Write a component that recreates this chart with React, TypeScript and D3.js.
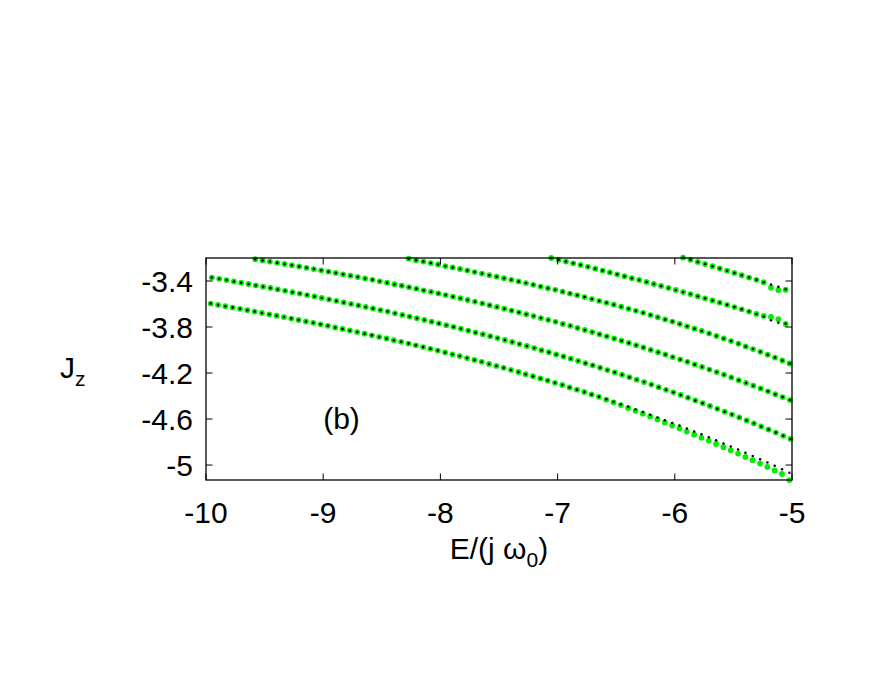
import React from 'react';
import * as d3 from 'd3';

// energies are on an even grid, one dot every E_STEP, each branch starts at its own E
const E_STEP = 0.0625;
const branchStarts = [-9.96, -9.95, -9.58, -8.27, -7.054, -5.929];

// black dots (exact)
const jzExact1 = [
  -3.596, -3.608, -3.619, -3.631, -3.642, -3.654, -3.666, -3.678, -3.690,
  -3.702, -3.714, -3.727, -3.739, -3.752, -3.764, -3.777, -3.790,
  -3.804, -3.817, -3.830, -3.844, -3.858, -3.872, -3.886, -3.900,
  -3.915, -3.929, -3.944, -3.959, -3.974, -3.990, -4.005, -4.021,
  -4.037, -4.053, -4.070, -4.086, -4.103, -4.121, -4.138, -4.155,
  -4.173, -4.191, -4.210, -4.228, -4.247, -4.266, -4.285, -4.304,
  -4.325, -4.345, -4.365, -4.386, -4.407, -4.428, -4.450, -4.471,
  -4.494, -4.517, -4.539, -4.562, -4.586, -4.610, -4.634, -4.657,
  -4.683, -4.708, -4.733, -4.758, -4.785, -4.812, -4.838, -4.865,
  -4.893, -4.921, -4.949, -4.977, -5.007, -5.036, -5.066,
];
const jzExact2 = [
  -3.370, -3.381, -3.392, -3.404, -3.415, -3.426, -3.438, -3.450, -3.461,
  -3.473, -3.485, -3.497, -3.509, -3.522, -3.534, -3.547, -3.560,
  -3.573, -3.586, -3.599, -3.612, -3.625, -3.639, -3.653, -3.666,
  -3.681, -3.695, -3.709, -3.724, -3.739, -3.754, -3.769, -3.784,
  -3.799, -3.815, -3.831, -3.847, -3.863, -3.880, -3.896, -3.913,
  -3.930, -3.948, -3.965, -3.983, -4.001, -4.019, -4.038, -4.056,
  -4.075, -4.095, -4.114, -4.133, -4.154, -4.174, -4.194, -4.215,
  -4.236, -4.258, -4.279, -4.300, -4.323, -4.346, -4.368, -4.391,
  -4.414, -4.438, -4.462, -4.486, -4.511, -4.536, -4.561, -4.586,
  -4.612, -4.638, -4.665, -4.691, -4.718, -4.746, -4.773,
];
const jzExact3 = [
  -3.211, -3.221, -3.231, -3.242, -3.252, -3.263, -3.274, -3.285, -3.296,
  -3.307, -3.319, -3.330, -3.342, -3.354, -3.366, -3.378, -3.390,
  -3.403, -3.415, -3.428, -3.441, -3.454, -3.467, -3.481, -3.494,
  -3.508, -3.522, -3.536, -3.550, -3.565, -3.580, -3.595, -3.610,
  -3.625, -3.641, -3.657, -3.672, -3.689, -3.705, -3.722, -3.738,
  -3.755, -3.773, -3.790, -3.808, -3.826, -3.844, -3.863, -3.881,
  -3.900, -3.919, -3.939, -3.958, -3.978, -3.999, -4.019, -4.039,
  -4.061, -4.082, -4.103, -4.125, -4.147, -4.170, -4.192, -4.215,
  -4.238, -4.262, -4.286, -4.310, -4.334, -4.359, -4.384, -4.409,
  -4.435,
];
const jzExact4 = [
  -3.206, -3.219, -3.231, -3.244, -3.256, -3.270, -3.282, -3.295, -3.308,
  -3.322, -3.335, -3.349, -3.362, -3.376, -3.390, -3.404, -3.418,
  -3.433, -3.448, -3.463, -3.477, -3.493, -3.509, -3.524, -3.540,
  -3.557, -3.573, -3.590, -3.606, -3.624, -3.642, -3.659, -3.677,
  -3.696, -3.715, -3.734, -3.753, -3.773, -3.794, -3.814, -3.834,
  -3.856, -3.878, -3.900, -3.922, -3.945, -3.969, -3.992, -4.016,
  -4.041, -4.066, -4.091, -4.117,
];
const jzExact5 = [
  -3.200, -3.215, -3.231, -3.246, -3.261, -3.277, -3.293, -3.309, -3.325,
  -3.342, -3.358, -3.375, -3.391, -3.408, -3.426, -3.443, -3.460,
  -3.478, -3.496, -3.514, -3.532, -3.551, -3.569, -3.588, -3.607,
  -3.627, -3.646, -3.666, -3.686, -3.709, -3.742, -3.762, -3.772,
];
const jzExact6 = [
  -3.197, -3.215, -3.234, -3.252, -3.271, -3.291, -3.310, -3.330,
  -3.350, -3.370, -3.390, -3.411, -3.431, -3.450, -3.472,
];

// green dots (approximation) - only differ from the exact ones near E = -5
const jzApproxTail1 = [
  -4.432, -4.456, -4.479, -4.504, -4.529, -4.553, -4.578, -4.604, -4.630,
  -4.656, -4.682, -4.709, -4.736, -4.763, -4.789, -4.817, -4.845, -4.872,
  -4.900, -4.929, -4.958, -4.987, -5.016, -5.047, -5.078, -5.131,
];
const jzApproxTail5 = [-3.704, -3.712, -3.732, -3.774];
const jzApproxTail6 = [-3.458, -3.478, -3.476];

const jzApprox1 = [...jzExact1.slice(0, jzExact1.length - jzApproxTail1.length), ...jzApproxTail1];
const jzApprox2 = jzExact2;
const jzApprox3 = jzExact3;
const jzApprox4 = jzExact4;
const jzApprox5 = [...jzExact5.slice(0, jzExact5.length - jzApproxTail5.length), ...jzApproxTail5];
const jzApprox6 = [...jzExact6.slice(0, jzExact6.length - jzApproxTail6.length), ...jzApproxTail6];

const exactBranches = [jzExact1, jzExact2, jzExact3, jzExact4, jzExact5, jzExact6];
const approxBranches = [jzApprox1, jzApprox2, jzApprox3, jzApprox4, jzApprox5, jzApprox6];

const xTicks = [-10, -9, -8, -7, -6, -5];
const yTicks = [-5, -4.6, -4.2, -3.8, -3.4];

const width = 872;
const height = 674;
const margin = { top: 258, right: 80, bottom: 194, left: 206 };
const font = "'Liberation Sans', Arial, Helvetica, sans-serif";

function toPoints(branches: number[][]) {
  const pts: { e: number; jz: number }[] = [];
  branches.forEach((ys, b) => {
    ys.forEach((jz, k) => pts.push({ e: branchStarts[b] + k * E_STEP, jz }));
  });
  return pts;
}

export default function App() {
  const x = d3.scaleLinear().domain([-10, -5]).range([margin.left, width - margin.right]);
  const y = d3.scaleLinear().domain([-5.13, -3.2]).range([height - margin.bottom, margin.top]);

  const x0 = x.range()[0], x1 = x.range()[1];
  const y0 = y.range()[0], y1 = y.range()[1];
  const tick = 6.5;

  const green = toPoints(approxBranches);
  const black = toPoints(exactBranches);

  const fmt = (v: number) => String(Math.round(v * 10) / 10);

  return (
    <svg width={width} height={height} style={{ position: 'absolute', left: 0, top: 0, background: '#fff' }}
      fontFamily={font}>
      <rect width={width} height={height} fill="#fff" />

      {/* points */}
      <g>
        {green.map((d, i) => (
          <circle key={'g' + i} cx={x(d.e)} cy={y(d.jz)} r={2.9} fill="#00ee00" />
        ))}
      </g>
      <g>
        {black.map((d, i) => (
          <circle key={'b' + i} cx={x(d.e)} cy={y(d.jz)} r={1.25} fill="#000" />
        ))}
      </g>

      {/* ticks, mirrored on all sides */}
      <g stroke="#000" strokeWidth={1}>
        {xTicks.map(t => (
          <g key={'xt' + t}>
            <line x1={x(t)} x2={x(t)} y1={y0} y2={y0 - tick} />
            <line x1={x(t)} x2={x(t)} y1={y1} y2={y1 + tick} />
          </g>
        ))}
        {yTicks.map(t => (
          <g key={'yt' + t}>
            <line x1={x0} x2={x0 + tick} y1={y(t)} y2={y(t)} />
            <line x1={x1} x2={x1 - tick} y1={y(t)} y2={y(t)} />
          </g>
        ))}
      </g>

      {/* frame */}
      <rect x={x0} y={y1} width={x1 - x0} height={y0 - y1} fill="none" stroke="#000" strokeWidth={1.3} />

      {/* tick labels */}
      <g fontSize={30} fill="#000">
        {xTicks.map(t => (
          <text key={'xl' + t} x={x(t)} y={y0 + 43} textAnchor="middle">{fmt(t)}</text>
        ))}
        {yTicks.map(t => (
          <text key={'yl' + t} x={x0 - 13} y={y(t) + 11} textAnchor="end">{fmt(t)}</text>
        ))}
      </g>

      {/* axis labels */}
      <text x={(x0 + x1) / 2} y={559} textAnchor="middle" fontSize={30}>
        E/(j ω<tspan fontSize={21} dy={8}>0</tspan><tspan dy={-8}>)</tspan>
      </text>
      <text x={60} y={378} fontSize={30}>
        J<tspan fontSize={21} dy={8}>z</tspan>
      </text>

      <text x={x(-9)} y={y(-4.69)} fontSize={30}>(b)</text>
    </svg>
  );
}
